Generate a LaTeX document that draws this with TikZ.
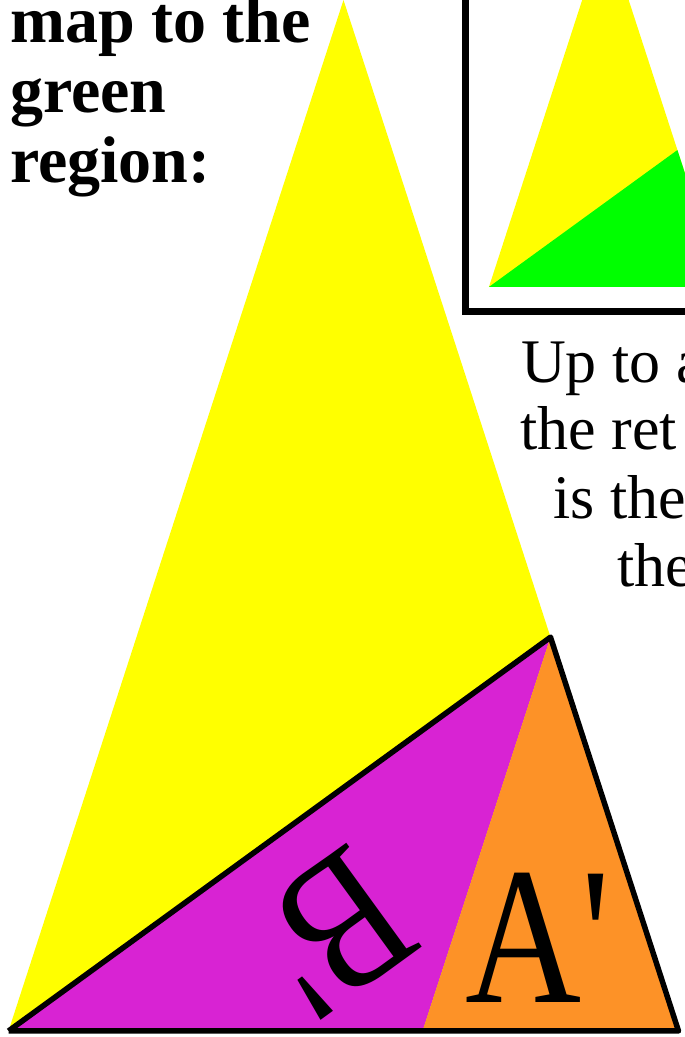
\documentclass[tikz,border=0pt]{standalone}
\usepackage{fontspec}
\setmainfont{Liberation Serif}
\usetikzlibrary{positioning, calc}
\definecolor{tileyellow}{RGB}{255,255,0}
\definecolor{tilegreen}{RGB}{0,255,0}
\definecolor{tilemagenta}{RGB}{216,35,211}
\definecolor{tileorange}{RGB}{253,146,39}

\begin{document}
\begin{tikzpicture}[
    x=1pt, y=1pt,
    outline/.style={draw=black, line width=5.5pt, line join=round},
    frame/.style={draw=black, line width=7pt},
    boldtext/.style={font=\fontsize{66}{70}\selectfont\bfseries, inner sep=0pt, anchor=base west},
    plaintext/.style={font=\fontsize{62}{68}\selectfont, inner sep=0pt, anchor=base west},
    biglabel/.style={font=\fontsize{196}{200}\selectfont, inner sep=0pt, xscale=0.82}
]
\useasboundingbox (0,0) rectangle (685,1037);

% Big golden triangle
\coordinate (L) at (8.5,6);
\coordinate (T) at (343.5,1037);
\coordinate (R) at (678.5,6);
\coordinate (P) at (550.5,399.8);
\coordinate (Q) at (422.6,6);

\fill[tileyellow] (L) -- (T) -- (R) -- cycle;
\fill[tilemagenta] (L) -- (P) -- (Q) -- cycle;
\fill[tileorange] (Q) -- (P) -- (R) -- cycle;
\draw[outline] (L) -- (P) -- (R) -- (L);

% Inset
\draw[frame] (465.5,725.5) rectangle (760,1100);
\begin{scope}[shift={(486,747.6)}, scale=0.3477]
  \fill[tileyellow] (8.5,7) -- (343.5,1038) -- (678.5,7) -- cycle;
  \fill[tilegreen] (8.5,7) -- (550.5,400.8) -- (678.5,7) -- cycle;
\end{scope}

% Labels
\node[rotate=216, biglabel] (bprime) at (333,105) {B\textquotesingle};
\node[biglabel] (aprime) at (538,99.5) {A\textquotesingle};

% Texts
\node[boldtext] (map) at (10,994) {map to the};
\node[boldtext] (green) at (10,924) {green};
\node[boldtext] (region) at (10,854) {region:};

\node[plaintext] (upto) at (521,654) {Up to a};
\node[plaintext] (ret) at (520,587) {the ret};
\node[plaintext] (isthe) at (553,518) {is the};
\node[plaintext] (the) at (617,450) {the};

\end{tikzpicture}
\end{document}
